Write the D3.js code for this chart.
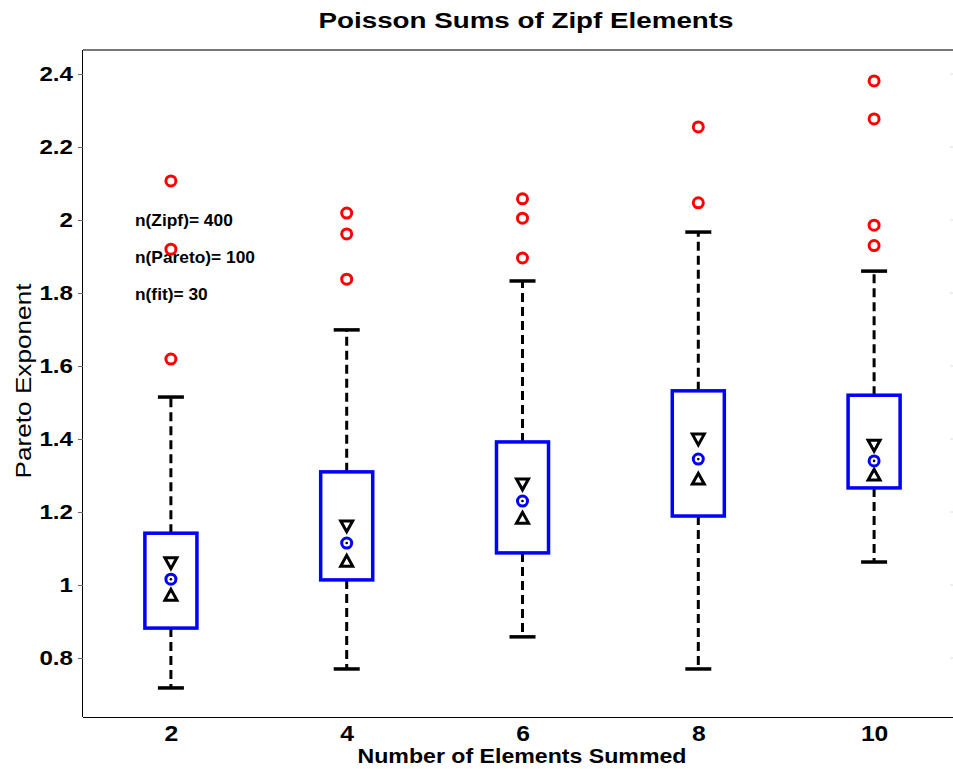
<!DOCTYPE html>
<html><head><meta charset="utf-8">
<script src="https://cdn.jsdelivr.net/npm/d3@7"></script>
<style>body{margin:0;background:#fff;overflow:hidden}text{font-family:Arial,"Liberation Sans",sans-serif}</style>
</head><body>
<svg id="c" width="953" height="769"></svg>
<script>
const groups = [2, 4, 6, 8, 10];
const whiskerLow = [0.718, 0.770, 0.858, 0.770, 1.063];
const q1 = [0.882, 1.014, 1.088, 1.189, 1.266];
const median = [1.016, 1.115, 1.230, 1.345, 1.340];
const q3 = [1.142, 1.310, 1.392, 1.532, 1.520];
const whiskerHigh = [1.515, 1.699, 1.833, 1.967, 1.860];
const notchLow = [0.975, 1.068, 1.186, 1.293, 1.304];
const notchHigh = [1.058, 1.159, 1.274, 1.397, 1.380];
const outliers = [[2.107, 1.920, 1.619], [2.019, 1.962, 1.838], [2.058, 2.005, 1.896], [2.255, 2.047], [2.381, 2.277, 1.986, 1.930]];
const yTicks = [0.8, 1, 1.2, 1.4, 1.6, 1.8, 2, 2.2, 2.4];
const annotations = ["n(Zipf)= 400", "n(Pareto)= 100", "n(fit)= 30"];

const svg = d3.select("#c");
const L = 83, R = 962, T = 50, B = 717;
const x = d3.scaleLinear().domain([1, 11]).range([L, R]);
const y = d3.scaleLinear().domain([0.6384, 2.4658]).range([B, T]);
const halfW = 0.296; // box half width in data units

function stretch(sel, k) {
  sel.each(function () {
    const w = this.getComputedTextLength();
    d3.select(this).attr("textLength", w * k).attr("lengthAdjust", "spacingAndGlyphs");
  });
}

// frame
svg.append("line").attr("x1", L).attr("x2", R).attr("y1", T).attr("y2", T).attr("stroke", "#777").attr("stroke-width", 2);
svg.append("line").attr("x1", R).attr("x2", R).attr("y1", T).attr("y2", B).attr("stroke", "#000");

const yAxis = svg.append("g").attr("transform", `translate(${L},0)`)
  .call(d3.axisLeft(y).tickValues(yTicks).tickSize(5).tickPadding(5).tickFormat(d => d3.format("")(d)));
yAxis.select(".domain").attr("stroke", "#000").attr("d", `M-0.5,${T}V${B}`);
yAxis.selectAll(".tick line").attr("stroke", "#666");
yAxis.selectAll(".tick text").attr("font-size", 21).attr("font-weight", "bold").attr("fill", "#000").call(stretch, 1.15);

// right side faint ticks
svg.append("g").selectAll("line").data(yTicks).join("line")
  .attr("x1", R - 12).attr("x2", R).attr("y1", d => y(d)).attr("y2", d => y(d)).attr("stroke", "#ddd");

const xAxis = svg.append("g").attr("transform", `translate(0,${B})`)
  .call(d3.axisBottom(x).tickValues(groups).tickSize(0).tickPadding(8));
xAxis.select(".domain").attr("stroke", "#000").attr("d", `M${L},0.5H${R}`);
xAxis.selectAll(".tick text").attr("font-size", 22).attr("font-weight", "bold").attr("fill", "#000").call(stretch, 1.12);

// title and axis labels
svg.append("text").attr("x", 526).attr("y", 28).attr("text-anchor", "middle")
  .attr("font-size", 22.5).attr("font-weight", "bold").text("Poisson Sums of Zipf Elements")
  .attr("textLength", 415).attr("lengthAdjust", "spacingAndGlyphs");
svg.append("text").attr("x", 522).attr("y", 763).attr("text-anchor", "middle")
  .attr("font-size", 21).attr("font-weight", "bold").text("Number of Elements Summed")
  .attr("textLength", 329).attr("lengthAdjust", "spacingAndGlyphs");
svg.append("text").attr("transform", "translate(31,381) rotate(-90)").attr("text-anchor", "middle")
  .attr("font-size", 22).text("Pareto Exponent")
  .attr("textLength", 195).attr("lengthAdjust", "spacingAndGlyphs");

// annotations
svg.append("g").selectAll("text").data(annotations).join("text")
  .attr("x", 135).attr("y", (d, i) => 226 + i * 37)
  .attr("font-size", 17).attr("font-weight", "bold").text(d => d)
  .call(stretch, 1.02);

const g = svg.append("g");
groups.forEach((gx, i) => {
  const cx = x(gx);
  // whiskers
  g.append("line").attr("x1", cx).attr("x2", cx).attr("y1", y(q3[i])).attr("y2", y(whiskerHigh[i]))
    .attr("stroke", "#000").attr("stroke-width", 3).attr("stroke-dasharray", "9,5");
  g.append("line").attr("x1", cx).attr("x2", cx).attr("y1", y(q1[i])).attr("y2", y(whiskerLow[i]))
    .attr("stroke", "#000").attr("stroke-width", 3).attr("stroke-dasharray", "9,5");
  // caps
  [whiskerHigh[i], whiskerLow[i]].forEach(v => {
    g.append("line").attr("x1", x(gx - halfW / 2)).attr("x2", x(gx + halfW / 2))
      .attr("y1", y(v)).attr("y2", y(v)).attr("stroke", "#000").attr("stroke-width", 3.5);
  });
  // box
  g.append("rect").attr("x", x(gx - halfW)).attr("width", x(gx + halfW) - x(gx - halfW))
    .attr("y", y(q3[i])).attr("height", y(q1[i]) - y(q3[i]))
    .attr("fill", "#fff").attr("stroke", "#0000ff").attr("stroke-width", 3.5);
  // notch triangles
  const ts = 6;
  const yh = y(notchHigh[i]), yl = y(notchLow[i]);
  g.append("path").attr("d", `M${cx - ts},${yh - ts}L${cx + ts},${yh - ts}L${cx},${yh + ts * 0.8}Z`)
    .attr("fill", "#fff").attr("stroke", "#000").attr("stroke-width", 3).attr("stroke-linejoin", "miter");
  g.append("path").attr("d", `M${cx - ts},${yl + ts}L${cx + ts},${yl + ts}L${cx},${yl - ts * 0.8}Z`)
    .attr("fill", "#fff").attr("stroke", "#000").attr("stroke-width", 3).attr("stroke-linejoin", "miter");
  // median marker
  g.append("circle").attr("cx", cx).attr("cy", y(median[i])).attr("r", 5)
    .attr("fill", "#fff").attr("stroke", "#0000ff").attr("stroke-width", 3);
  g.append("circle").attr("cx", cx).attr("cy", y(median[i])).attr("r", 1.3).attr("fill", "#000");
  // outliers
  outliers[i].forEach(v => {
    g.append("circle").attr("cx", cx).attr("cy", y(v)).attr("r", 5)
      .attr("fill", "none").attr("stroke", "#ff0000").attr("stroke-width", 3);
  });
});
</script>
</body></html>
